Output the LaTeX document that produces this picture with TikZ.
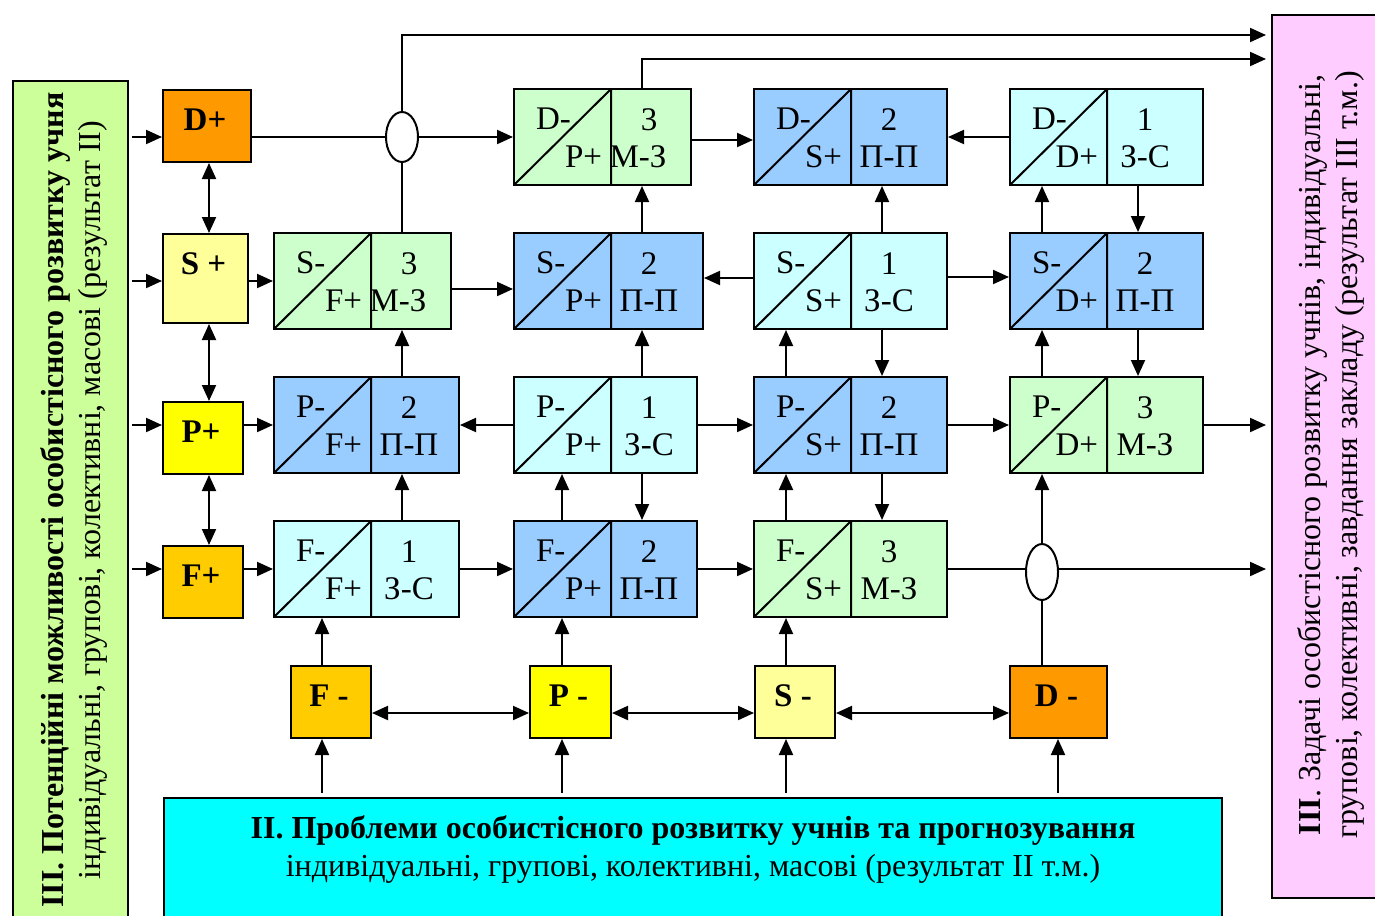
\documentclass[tikz,border=0pt]{standalone}
\usepackage{fontspec}
\setmainfont{Liberation Serif}
\usetikzlibrary{positioning,arrows.meta,calc,shapes.geometric}
\definecolor{mzgreen}{HTML}{CCFFCC}
\definecolor{ppblue}{HTML}{99CCFF}
\definecolor{zscyan}{HTML}{CCFFFF}
\definecolor{dorange}{HTML}{FF9900}
\definecolor{slight}{HTML}{FFFF99}
\definecolor{pyellow}{HTML}{FFFF00}
\definecolor{fgold}{HTML}{FFCC00}
\definecolor{leftbg}{HTML}{CCFF99}
\definecolor{rightbg}{HTML}{FFCCFF}
\definecolor{bottombg}{HTML}{00FFFF}
\tikzset{codepos/.initial=38}
\tikzset{lbl/.style={inner sep=0pt, minimum size=0pt, anchor=center}}
\tikzset{pair/.style n args={5}{
    draw, fill=#1, minimum height=96pt, inner sep=0pt,
    path picture={
        \draw
            (path picture bounding box.south west) -- ($(path picture bounding box.north west)+(97,0)$)
            ($(path picture bounding box.north west)+(97,0)$) -- ($(path picture bounding box.south west)+(97,0)$);
        \node[lbl,anchor=west] at ($(path picture bounding box.north west)+(21,30)$) {#2};
        \node[lbl,anchor=east] at ($(path picture bounding box.south west)+(89,-28)$) {#3};
        \node[lbl] at ($(path picture bounding box.north west)+(135,31)$) {#4};
        \node[lbl] at ($(path picture bounding box.south west)+(97+\pgfkeysvalueof{/tikz/codepos},-28)$) {#5};
        }
    }
}
\tikzset{sign/.style 2 args={
    draw, fill=#1, inner sep=0pt,
    path picture={
        \node[lbl] at ($(path picture bounding box.north)+(-2,30)$) {\textbf{#2}};
        }
    }
}
\tikzset{junction/.style={draw, ellipse, fill=white, minimum width=32pt, inner sep=0pt}}
\tikzset{panel/.style={draw, fill=#1, inner sep=0pt}}
\tikzset{paneltext/.style={align=center, inner sep=0pt, font=\fontsize{32}{37.5}\selectfont}}

\begin{document}
\begin{tikzpicture}[>={Triangle[length=16pt,width=14pt]}, x=1pt, y=-1pt, line width=2pt, font=\fontsize{33}{38}\selectfont]
		\useasboundingbox (0,0) rectangle (1375,915);

		\node[panel=leftbg, anchor=north west, minimum width=115pt, minimum height=840pt] (LP) at (12,80) {};
		\node[panel=rightbg, anchor=north west, minimum width=120pt, minimum height=883pt] (RP) at (1271,14) {};
		\node[panel=bottombg, anchor=north west, minimum width=1058pt, minimum height=140pt] (BP) at (163,797) {};
		\node[paneltext, rotate=90] (LPtext) at (74,500) {\textbf{ІІІ. Потенційні можливості особистісного розвитку учня}\\індивідуальні, групові, колективні, масові (результат ІІ)};
		\node[paneltext, rotate=90] (RPtext) at (1331,455) {\textbf{ІІІ}. Задачі особистісного розвитку учнів, індивідуальні,\\групові, колективні, завдання закладу (результат ІІІ т.м.)};
		\node[paneltext, below=18pt of BP.north] (BPtext) {\textbf{ІІ. Проблеми особистісного розвитку учнів та прогнозування}\\індивідуальні, групові, колективні, масові (результат ІІ т.м.)};

		\node[sign={dorange}{D+}, anchor=north west, minimum width=88pt, minimum height=72pt] (Dp) at (162,89) {};
		\node[sign={slight}{S +}, anchor=north west, minimum width=85pt, minimum height=89pt] (Sp) at (162,233) {};
		\node[sign={pyellow}{P+}, anchor=north west, minimum width=80pt, minimum height=72pt] (Pp) at (162,401) {};
		\node[sign={fgold}{F+}, anchor=north west, minimum width=80pt, minimum height=72pt] (Fp) at (162,545) {};
		\node[sign={fgold}{F -}, anchor=north west, minimum width=80pt, minimum height=72pt] (Fm) at (290,665) {};
		\node[sign={pyellow}{P -}, anchor=north west, minimum width=81pt, minimum height=72pt] (Pm) at (529,665) {};
		\node[sign={slight}{S -}, anchor=north west, minimum width=80pt, minimum height=72pt] (Sm) at (754,665) {};
		\node[sign={dorange}{D -}, anchor=north west, minimum width=97pt, minimum height=72pt] (Dm) at (1009,665) {};

		\node[pair={mzgreen}{D-}{P+}{3}{М-З}, codepos=27, anchor=west, minimum width=177pt] (DP) at (513,137) {};
		\node[pair={ppblue}{D-}{S+}{2}{П-П}, anchor=west, minimum width=193pt] (DS) at (753,137) {};
		\node[pair={zscyan}{D-}{D+}{1}{З-С}, anchor=west, minimum width=193pt] (DD) at (1009,137) {};
		\node[pair={mzgreen}{S-}{F+}{3}{М-З}, codepos=27, anchor=west, minimum width=177pt] (SF) at (273,281) {};
		\node[pair={ppblue}{S-}{P+}{2}{П-П}, anchor=west, minimum width=189pt] (SP) at (513,281) {};
		\node[pair={zscyan}{S-}{S+}{1}{З-С}, anchor=west, minimum width=193pt] (SS) at (753,281) {};
		\node[pair={ppblue}{S-}{D+}{2}{П-П}, anchor=west, minimum width=193pt] (SD) at (1009,281) {};
		\node[pair={ppblue}{P-}{F+}{2}{П-П}, anchor=west, minimum width=185pt] (PF) at (273,425) {};
		\node[pair={zscyan}{P-}{P+}{1}{З-С}, anchor=west, minimum width=183pt] (PP) at (513,425) {};
		\node[pair={ppblue}{P-}{S+}{2}{П-П}, anchor=west, minimum width=193pt] (PS) at (753,425) {};
		\node[pair={mzgreen}{P-}{D+}{3}{М-З}, anchor=west, minimum width=193pt] (PD) at (1009,425) {};
		\node[pair={zscyan}{F-}{F+}{1}{З-С}, anchor=west, minimum width=185pt] (FF) at (273,569) {};
		\node[pair={ppblue}{F-}{P+}{2}{П-П}, anchor=west, minimum width=183pt] (FP) at (513,569) {};
		\node[pair={mzgreen}{F-}{S+}{3}{М-З}, anchor=west, minimum width=193pt] (FS) at (753,569) {};

		\node[junction, minimum height=50pt] (E1) at (402,137) {};
		\node[junction, minimum height=56pt] (E2) at (1042,572) {};

		\draw [->] ($(LP.east |- DP.west)+(3,0)$) -- (Dp.west |- DP.west);
		\draw [->] ($(LP.east |- SF.west)+(3,0)$) -- (Sp.west |- SF.west);
		\draw [->] ($(LP.east |- PF.west)+(3,0)$) -- (Pp.west |- PF.west);
		\draw [->] ($(LP.east |- FF.west)+(3,0)$) -- (Fp.west |- FF.west);
		\draw [<->] ($(Dp.south west)+(47,0)$) -- ($(Sp.north west)+(47,0)$);
		\draw [<->] ($(Sp.south west)+(47,0)$) -- ($(Pp.north west)+(47,0)$);
		\draw [<->] ($(Pp.south west)+(47,0)$) -- ($(Fp.north west)+(47,0)$);

		\draw (Dp.east |- DP.west) -- (E1.west);
		\draw [->] (E1.east) -- (DP.west);
		\draw [->] (Sp.east |- SF.west) -- (SF.west);
		\draw [->] (Pp.east |- PF.west) -- (PF.west);
		\draw [->] (Fp.east |- FF.west) -- (FF.west);

		\draw [->] ([yshift=-3pt]DP.east) -- ([yshift=-3pt]DS.west);
		\draw [->] (DD.west) -- (DS.east);
		\draw [->] ([yshift=-8pt]SF.east) -- ([yshift=-8pt]SP.west);
		\draw [->] ([yshift=3pt]SS.west) -- ([yshift=3pt]SP.east);
		\draw [->] ([yshift=4pt]SS.east) -- ([yshift=4pt]SD.west);
		\draw [->] (PP.west) -- (PF.east);
		\draw [->] (PP.east) -- (PS.west);
		\draw [->] (PS.east) -- (PD.west);
		\draw [->, shorten >=5pt] (PD.east) -- (RP.west |- PD.east);
		\draw [->] (FF.east) -- (FP.west);
		\draw [->] (FP.east) -- (FS.west);
		\draw (FS.east) -- (FS.east -| E2.west);
		\draw [->, shorten >=5pt] (FS.east -| E2.east) -- (RP.west |- FS.east);

		\draw ($(SF.north west)+(129,0)$) -- (E1.south);
		\draw [->, shorten >=5pt] (E1.north) |- ($(RP.north west)+(0,21)$);
		\draw [->, shorten >=5pt] ($(DP.north west)+(129,0)$) |- ($(RP.north west)+(0,45)$);

		\draw [->] ($(FF.north west)+(129,0)$) -- ($(PF.south west)+(129,0)$);
		\draw [->] ($(PF.north west)+(129,0)$) -- ($(SF.south west)+(129,0)$);
		\draw [->] ($(FP.north west)+(49,0)$) -- ($(PP.south west)+(49,0)$);
		\draw [->] ($(PP.south west)+(129,0)$) -- ($(FP.north west)+(129,0)$);
		\draw [->] ($(PP.north west)+(129,0)$) -- ($(SP.south west)+(129,0)$);
		\draw [->] ($(SP.north west)+(129,0)$) -- ($(DP.south west)+(129,0)$);
		\draw [->] ($(FS.north west)+(33,0)$) -- ($(PS.south west)+(33,0)$);
		\draw [->] ($(PS.north west)+(33,0)$) -- ($(SS.south west)+(33,0)$);
		\draw [->] ($(SS.south west)+(129,0)$) -- ($(PS.north west)+(129,0)$);
		\draw [->] ($(PS.south west)+(129,0)$) -- ($(FS.north west)+(129,0)$);
		\draw [->] ($(SS.north west)+(129,0)$) -- ($(DS.south west)+(129,0)$);
		\draw [->] (E2.north) -- ($(PD.south west)+(33,0)$);
		\draw [->] ($(PD.north west)+(33,0)$) -- ($(SD.south west)+(33,0)$);
		\draw [->] ($(SD.north west)+(33,0)$) -- ($(DD.south west)+(33,0)$);
		\draw [->] ($(DD.south west)+(129,0)$) -- ($(SD.north west)+(129,0)$);
		\draw [->] ($(SD.south west)+(129,0)$) -- ($(PD.north west)+(129,0)$);

		\draw [->] ($(Fm.north west)+(32,0)$) -- ($(FF.south west)+(49,0)$);
		\draw [->] ($(Pm.north west)+(33,0)$) -- ($(FP.south west)+(49,0)$);
		\draw [->] ($(Sm.north west)+(32,0)$) -- ($(FS.south west)+(33,0)$);
		\draw ($(Dm.north west)+(33,0)$) -- (E2.south);
		\draw [<->] ($(Fm.north east)+(0,48)$) -- ($(Pm.north west)+(0,48)$);
		\draw [<->] ($(Pm.north east)+(0,48)$) -- ($(Sm.north west)+(0,48)$);
		\draw [<->] ($(Sm.north east)+(0,48)$) -- ($(Dm.north west)+(0,48)$);

		\draw [->] ($(BP.north -| Fm.west)+(32,-4)$) -- ($(Fm.south west)+(32,0)$);
		\draw [->] ($(BP.north -| Pm.west)+(33,-4)$) -- ($(Pm.south west)+(33,0)$);
		\draw [->] ($(BP.north -| Sm.west)+(32,-4)$) -- ($(Sm.south west)+(32,0)$);
		\draw [->] ($(BP.north -| Dm.west)+(49,-4)$) -- ($(Dm.south west)+(49,0)$);
	\end{tikzpicture}
\end{document}
